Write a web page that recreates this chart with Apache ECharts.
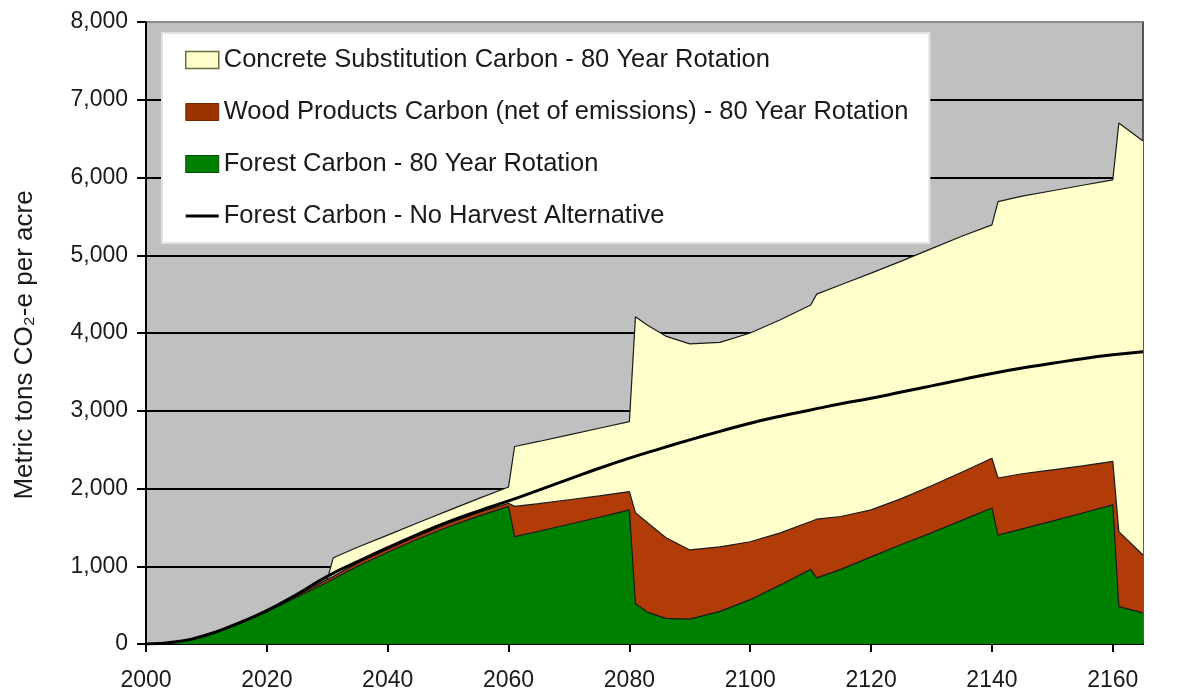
<!DOCTYPE html>
<html>
<head>
<meta charset="utf-8">
<script src="https://cdn.jsdelivr.net/npm/echarts@6/dist/echarts.min.js"></script>
<style>
html,body{margin:0;padding:0;background:#fff;}
#chart{width:1189px;height:693px;}
</style>
</head>
<body>
<div id="chart"></div>
<script>
// ---- DATA ----
const years = [2000,2005,2010,2015,2020,2025,2030,2031,2035,2040,2045,2050,2055,2060,
  2061,2065,2070,2075,2080,2081,2083,2086,2090,2095,2100,2105,2110,
  2111,2115,2120,2125,2130,2135,2140,2141,2145,2150,2155,2160,2161,2165];

// Forest Carbon - 80 Year Rotation (layer)
const forestCarbon = [0,25,105,245,415,605,795,835,1000,1180,1350,1505,1645,1770,
  1380,1450,1540,1630,1725,520,410,330,320,420,570,760,960,
  850,960,1120,1280,1430,1590,1750,1400,1480,1580,1685,1790,480,400];

// Wood Products Carbon (net of emissions) - 80 Year Rotation (layer)
const woodProducts = [0,0,0,5,10,15,35,35,40,40,40,45,45,40,
  390,355,315,275,235,1170,1150,1040,890,830,745,670,615,
  755,680,605,590,605,620,640,735,710,660,605,560,965,745];

// Concrete Substitution Carbon - 80 Year Rotation (layer)
const concreteSubst = [0,0,0,0,0,0,0,240,205,180,170,165,180,210,
  770,800,835,870,900,2520,2540,2590,2650,2630,2685,2740,2785,
  2895,2980,3045,3055,3050,3035,3000,3555,3570,3590,3610,3620,5255,5325];

// Forest Carbon - No Harvest Alternative (line)
const noHarvestYears = [2000,2005,2010,2015,2020,2025,2030,2035,2040,2045,2050,2055,2060,
  2065,2070,2075,2080,2085,2090,2095,2100,2105,2110,2115,2120,2125,2130,2135,2140,
  2145,2150,2155,2160,2165];
const noHarvest = [0,30,115,260,430,640,870,1060,1240,1410,1570,1710,1840,
  1980,2120,2260,2390,2510,2625,2735,2840,2930,3010,3090,3160,3240,3320,3400,3480,
  3550,3610,3670,3720,3760];

const xTickLabels = [2000,2020,2040,2060,2080,2100,2120,2140,2160];

const seriesNames = [
  'Concrete Substitution Carbon - 80 Year Rotation',
  'Wood Products Carbon (net of emissions) - 80 Year Rotation',
  'Forest Carbon - 80 Year Rotation',
  'Forest Carbon - No Harvest Alternative'
];

// ---- stacked totals (built from the layer arrays) ----
const topForest = forestCarbon.slice();
const topWood = forestCarbon.map((v,i)=>v + woodProducts[i]);
const topConcrete = topWood.map((v,i)=>v + concreteSubst[i]);

// ---- CHART ----
const FONT = "'Liberation Sans', Arial, sans-serif";
const chart = echarts.init(document.getElementById('chart'), null, {renderer:'canvas'});

function pairs(xs, ys){ return xs.map((x,i)=>[x, ys[i]]); }

function areaSeries(name, vals, fill, z){
  return {
    name: name, type: 'line',
    data: pairs(years, vals),
    symbol: 'none', smooth: false,
    lineStyle: {color: '#1a1a1a', width: 1.2},
    itemStyle: {color: fill},
    areaStyle: {color: fill, opacity: 1, origin: 'start'},
    emphasis: {disabled: true},
    z: z
  };
}

const option = {
  animation: false,
  backgroundColor: '#ffffff',
  grid: {left: 146, right: 46, top: 22, bottom: 49, show: true,
    backgroundColor: '#c0c0c0', borderColor: '#8c8c8c', borderWidth: 1},
  legend: {
    orient: 'vertical', left: 162, top: 33,
    backgroundColor: '#ffffff', borderColor: '#e2e2e2', borderWidth: 2,
    padding: [14, 21, 14, 23],
    itemGap: 26, itemWidth: 33, itemHeight: 17,
    selectedMode: false,
    textStyle: {fontFamily: FONT, fontSize: 25.5, color: '#1a1a1a', lineHeight: 26},
    data: [
      {name: seriesNames[0], icon: 'rect', itemStyle: {color: '#ffffcc', borderColor: '#6b6b40', borderWidth: 1.5}},
      {name: seriesNames[1], icon: 'rect', itemStyle: {color: '#993300', borderColor: '#7a2a00', borderWidth: 1}},
      {name: seriesNames[2], icon: 'rect', itemStyle: {color: '#008000', borderColor: '#005000', borderWidth: 1}},
      {name: seriesNames[3], icon: 'path://M0,0H36V3.2H0Z', itemStyle: {color: '#000', borderWidth: 0}}
    ]
  },
  xAxis: {
    type: 'value', min: 2000, max: 2165, interval: 20,
    axisLine: {show: true, lineStyle: {color: '#000', width: 2}},
    axisTick: {show: true, length: 8, lineStyle: {color: '#000', width: 2}, customValues: xTickLabels},
    axisLabel: {fontFamily: FONT, fontSize: 23, color: '#1a1a1a', margin: 25,
      customValues: xTickLabels, formatter: v => String(v)},
    splitLine: {show: false}
  },
  yAxis: [{
    type: 'value', min: 0, max: 8000, interval: 1000,
    name: 'Metric tons CO\u2082-e per acre', nameLocation: 'middle', nameGap: 108,
    nameTextStyle: {fontFamily: FONT, fontSize: 26, color: '#1a1a1a', padding: [0, 24, 0, 0]},
    axisLine: {show: true, lineStyle: {color: '#000', width: 2}},
    axisTick: {show: true, length: 9, lineStyle: {color: '#000', width: 2}},
    axisLabel: {fontFamily: FONT, fontSize: 23, color: '#1a1a1a', margin: 18,
      formatter: v => v.toLocaleString('en-US')},
    splitLine: {show: true, lineStyle: {color: ['#000','#000','#000','#000','#000','#000','#000','#000','#8c8c8c'], width: 2}}
  }, {
    type: 'value', min: 0, max: 8000, interval: 1000, position: 'right',
    axisLine: {show: true, lineStyle: {color: '#333', width: 1.5}},
    axisTick: {show: false}, axisLabel: {show: false}, splitLine: {show: false}
  }],
  series: [
    areaSeries(seriesNames[0], topConcrete, '#ffffcc', 2),
    areaSeries(seriesNames[1], topWood, '#b23c08', 3),
    areaSeries(seriesNames[2], topForest, '#008000', 4),
    {
      name: seriesNames[3], type: 'line',
      data: pairs(noHarvestYears, noHarvest),
      symbol: 'none', smooth: true,
      lineStyle: {color: '#000', width: 3},
      itemStyle: {color: '#000'},
      emphasis: {disabled: true},
      z: 5
    }
  ]
};
chart.setOption(option);
</script>
</body>
</html>
